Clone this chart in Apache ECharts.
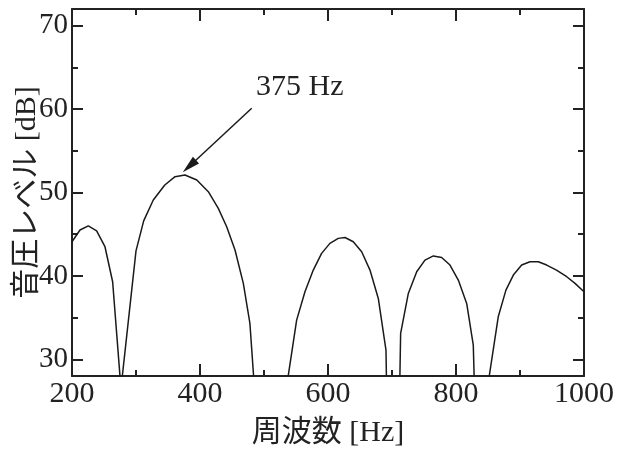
<!DOCTYPE html>
<html>
<head>
<meta charset="utf-8">
<script src="https://cdn.jsdelivr.net/npm/echarts@6/dist/echarts.min.js"></script>
<style>html,body{margin:0;padding:0;background:#fff;}#c{width:618px;height:452px;}</style>
</head>
<body>
<div id="c"></div>
<script>
// Frequency [Hz]
var freqs = [200, 212.5, 225.5, 238.5, 251.5, 263.5, 276.5, 300, 312, 327, 345, 361, 376.5, 395, 413, 428.6, 441.7, 454.7, 467.7, 478, 491, 508, 525, 551, 564, 577, 590, 603, 616, 626.6, 639.5, 652.6, 665.6, 678.6, 690.6, 693, 702, 710.5, 713.5, 725.5, 738.6, 751.5, 764.6, 777.6, 790.6, 803.6, 816.7, 827, 830.5, 840, 849, 866, 878, 889.6, 902.6, 915.6, 928.6, 941.7, 957, 973, 986, 1000];
// Sound pressure level [dB]
var levels = [44.1, 45.5, 46.0, 45.4, 43.5, 39.3, 26.5, 43.0, 46.6, 49.1, 50.9, 51.9, 52.1, 51.5, 50.1, 48.1, 45.9, 43.1, 39.1, 34.3, 20, 12, 21.5, 34.7, 38.1, 40.7, 42.7, 43.9, 44.5, 44.6, 44.1, 42.9, 40.7, 37.3, 31.1, 20, 12, 20, 33.1, 37.9, 40.5, 41.9, 42.4, 42.2, 41.3, 39.5, 36.7, 31.7, 22, 12, 26.5, 35.1, 38.3, 40.1, 41.3, 41.7, 41.7, 41.3, 40.7, 39.9, 39.1, 38.1];
var yMajorTicks = [30, 40, 50, 60, 70];
var yMinorTicks = [35, 45, 55, 65];
var annotationText = '375 Hz';
var arrowFrom = [480.8, 60.1];
var arrowTo = [383.4, 53.15];
var labelAt = [556, 62.6];

var FONT = '"Liberation Serif", "Noto Sans CJK JP", serif';
var INK = '#222';
var data = freqs.map(function (f, i) { return [f, levels[i]]; });

var chart = echarts.init(document.getElementById('c'), null, {renderer: 'canvas'});

function xAx(pos, showLabel) {
  return {
    type: 'value', position: pos, min: 200, max: 1000, interval: 200,
    name: showLabel ? '周波数 [Hz]' : '', nameLocation: 'middle', nameGap: 42, nameMoveOverlap: false,
    nameTextStyle: {fontFamily: FONT, fontSize: 30, color: INK},
    axisLine: {show: true, lineStyle: {color: INK, width: 2}},
    axisTick: {show: true, inside: true, length: 12, lineStyle: {color: INK, width: 2}},
    minorTick: {show: true, splitNumber: 2, length: 6, lineStyle: {color: INK, width: 2}},
    axisLabel: {show: showLabel, margin: 3, fontFamily: FONT, fontSize: 30, color: INK,
      formatter: function (v) { return String(v); }},
    splitLine: {show: false}, minorSplitLine: {show: false}
  };
}
function yAx(pos, major, showLabel, showLine) {
  return {
    type: 'value', position: pos, min: 28, max: 72,
    name: showLabel ? '音圧レベル [dB]' : '', nameLocation: 'middle', nameGap: 30, nameMoveOverlap: false,
    nameTextStyle: {fontFamily: FONT, fontSize: 30, color: INK},
    axisLine: {show: showLine, lineStyle: {color: INK, width: 2}},
    axisTick: {show: true, inside: true, length: major ? 11 : 6, customValues: major ? yMajorTicks : yMinorTicks, lineStyle: {color: INK, width: 2}},
    axisLabel: {show: showLabel, margin: 4, customValues: yMajorTicks, fontFamily: FONT, fontSize: 29, color: INK},
    splitLine: {show: false}
  };
}

chart.setOption({
  animation: false,
  backgroundColor: '#fff',
  grid: {left: 72, right: 34, top: 9, bottom: 76, containLabel: false, outerBoundsMode: 'none'},
  xAxis: [xAx('bottom', true), xAx('top', false)],
  yAxis: [yAx('left', true, true, true), yAx('left', false, false, false), yAx('right', true, false, true), yAx('right', false, false, false)],
  series: [{
    type: 'line', data: data, xAxisIndex: 0, yAxisIndex: 0,
    showSymbol: false, symbol: 'none', clip: true,
    lineStyle: {color: '#1a1a1a', width: 1.5},
    markLine: {
      silent: true, animation: false,
      label: {show: false},
      lineStyle: {color: '#1a1a1a', width: 1.5, type: 'solid'},
      symbol: ['none', 'triangle'], symbolSize: [9, 18],
      data: [[{coord: arrowFrom}, {coord: arrowTo}]]
    },
    markPoint: {
      silent: true, animation: false,
      symbol: 'rect', symbolSize: 1, itemStyle: {color: 'rgba(0,0,0,0)'},
      label: {show: true, position: 'inside', formatter: annotationText, fontFamily: FONT, fontSize: 30, color: INK},
      data: [{coord: labelAt}]
    }
  }]
});
</script>
</body>
</html>
